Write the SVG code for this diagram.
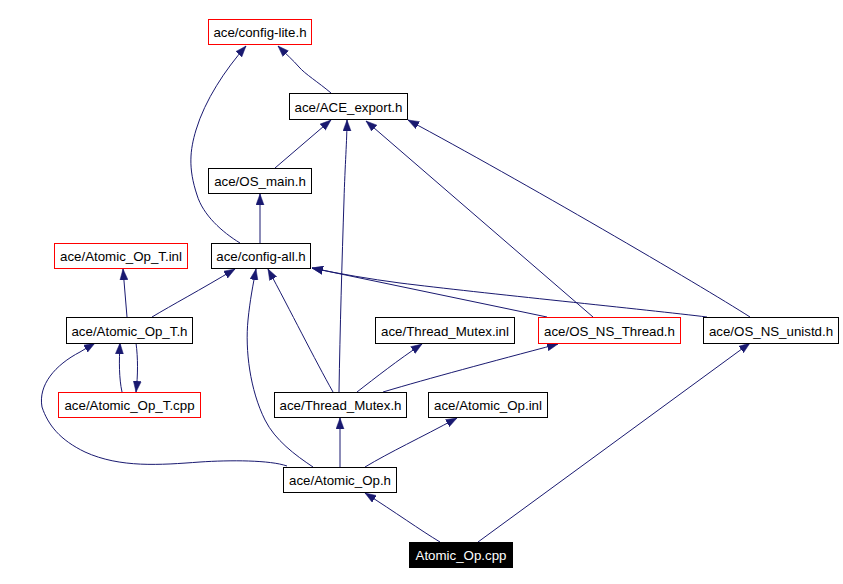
<svg xmlns="http://www.w3.org/2000/svg" width="843" height="584" viewBox="0 0 843 584">
<style>
.n rect{fill:#fff;stroke:#000;stroke-width:1}
.n.r rect{stroke:#f00}
.n.s rect{fill:#000}
.n text{font-family:"Liberation Sans",Arial,sans-serif;font-size:13.3px;text-anchor:middle;fill:#000}
.n.s text{fill:#fff}
.e path{fill:none;stroke:#191970;stroke-width:1;marker-end:url(#arr)}
</style>
<defs>
<marker id="arr" markerWidth="12" markerHeight="9" refX="11" refY="4.5" orient="auto" markerUnits="userSpaceOnUse">
<path d="M0,0.5 L11,4.5 L0,8.5 z" fill="#191970" stroke="#191970" stroke-width="0.5"/>
</marker>
</defs>
<rect width="843" height="584" fill="#fff"/>
<g id="edges" class="e">
<path d="M331,93 C318,82 305,74 299,67 C293,60 286,54 278,46"/>
<path d="M240,243 C222,232 203,215 197,195 C188,168 190,150 196,130 C205,100 225,70 246,46"/>
<path d="M275,168 L331,120"/>
<path d="M260,243 L260,194"/>
<path d="M339,392 C340,330 342,260 344,200 C345,165 347,140 347,120"/>
<path d="M593,317 L366,121"/>
<path d="M750,317 C700,285 520,180 408,120"/>
<path d="M127,317 L123,269"/>
<path d="M152,317 C172,305 200,290 235,269"/>
<path d="M136,343 C138,358 138,375 136,392"/>
<path d="M122,392 C119,378 119,362 120,343"/>
<path d="M287,466 C270,460 230,460 200,462 C160,465 120,468 85,452 C60,440 48,425 42,407 C38,385 55,365 80,352 C85,349 90,346 95,343"/>
<path d="M313,467 C295,455 275,440 265,420 C250,390 245,350 248,320 C250,300 253,285 256,269"/>
<path d="M340,467 L340,418"/>
<path d="M365,467 C390,452 420,438 457,418"/>
<path d="M333,392 C315,360 290,310 268,269"/>
<path d="M357,392 C375,378 398,360 422,344"/>
<path d="M383,392 C430,378 490,362 558,344"/>
<path d="M547,317 L312,268"/>
<path d="M707,317 C650,310 480,293 400,283 C370,279 340,274 312,268"/>
<path d="M440,542 C420,530 395,512 365,493"/>
<path d="M478,542 L750,343"/>
</g>
<g id="config-lite" class="n r"><rect x="208.5" y="19.5" width="103" height="25"/><text x="260" y="37">ace/config-lite.h</text></g>
<g id="ACE_export" class="n"><rect x="289.5" y="93.5" width="118" height="26"/><text x="348.5" y="111.5">ace/ACE_export.h</text></g>
<g id="OS_main" class="n"><rect x="208.5" y="168.5" width="103" height="25"/><text x="260" y="186">ace/OS_main.h</text></g>
<g id="config-all" class="n"><rect x="211.5" y="243.5" width="99" height="25"/><text x="261" y="261">ace/config-all.h</text></g>
<g id="Atomic_Op_T_inl" class="n r"><rect x="54.5" y="243.5" width="133" height="25"/><text x="121" y="261">ace/Atomic_Op_T.inl</text></g>
<g id="Atomic_Op_T_h" class="n"><rect x="66.5" y="317.5" width="126" height="26"/><text x="129.5" y="335.5">ace/Atomic_Op_T.h</text></g>
<g id="Thread_Mutex_inl" class="n"><rect x="375.5" y="317.5" width="139" height="26"/><text x="445" y="335.5">ace/Thread_Mutex.inl</text></g>
<g id="OS_NS_Thread" class="n r"><rect x="538.5" y="317.5" width="142" height="26"/><text x="609.5" y="335.5">ace/OS_NS_Thread.h</text></g>
<g id="OS_NS_unistd" class="n"><rect x="703.5" y="317.5" width="135" height="26"/><text x="771" y="335.5">ace/OS_NS_unistd.h</text></g>
<g id="Atomic_Op_T_cpp" class="n r"><rect x="58.5" y="392.5" width="142" height="25"/><text x="129.5" y="410">ace/Atomic_Op_T.cpp</text></g>
<g id="Thread_Mutex_h" class="n"><rect x="274.5" y="392.5" width="132" height="25"/><text x="340.5" y="410">ace/Thread_Mutex.h</text></g>
<g id="Atomic_Op_inl" class="n"><rect x="428.5" y="392.5" width="119" height="25"/><text x="488" y="410">ace/Atomic_Op.inl</text></g>
<g id="Atomic_Op_h" class="n"><rect x="283.5" y="467.5" width="113" height="25"/><text x="340" y="485">ace/Atomic_Op.h</text></g>
<g id="Atomic_Op_cpp" class="n s"><rect x="409.5" y="542.5" width="103" height="25"/><text x="461" y="560">Atomic_Op.cpp</text></g>
</svg>
